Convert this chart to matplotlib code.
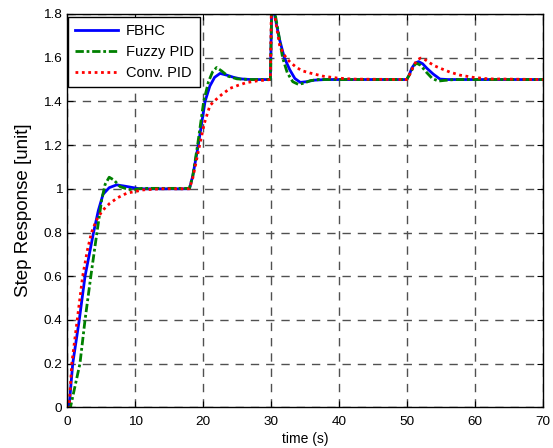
import matplotlib.pyplot as plt

fbhc_t = [0, 0.3, 0.84, 1.8, 2.65, 3.9, 4.6, 5.3, 6.2, 7.3, 8.5, 10.7, 18.0, 18.5, 19.3, 20.3,
          21.0, 21.7, 22.5, 23.5, 24.5, 25.5, 27.0, 29.9, 30.15, 30.5, 31.2, 31.95, 32.75, 33.5,
          34.3, 35.2, 36.3, 38.0, 49.95, 50.3, 50.7, 51.2, 51.7, 52.3, 52.9, 53.85, 54.85, 56.0, 70.0]
fbhc_y = [0, 0, 0.2, 0.4, 0.6, 0.8, 0.9, 0.975, 1.005, 1.018, 1.012, 1.0, 1.0, 1.06, 1.2, 1.4,
          1.47, 1.51, 1.528, 1.52, 1.51, 1.503, 1.5, 1.5, 1.9, 1.8, 1.69, 1.6, 1.545, 1.505,
          1.487, 1.49, 1.497, 1.5, 1.5, 1.52, 1.552, 1.575, 1.582, 1.572, 1.552, 1.525, 1.502, 1.5, 1.5]

fuzzy_t = [0, 0.5, 1.2, 1.9, 2.65, 3.5, 4.4, 5.1, 5.6, 6.2, 6.9, 7.8, 9.0, 10.0, 11.0, 18.0, 18.5,
           19.2, 20.1, 20.8, 21.4, 22.0, 22.7, 23.7, 25.0, 27.0, 29.9, 30.15, 30.6, 31.0, 31.7, 32.4,
           33.2, 34.0, 34.8, 35.8, 37.0, 49.95, 50.5, 51.0, 51.4, 52.0, 52.8, 53.7, 54.6, 55.5, 57.0, 70.0]
fuzzy_y = [0, 0, 0.1, 0.2, 0.4, 0.6, 0.8, 0.95, 1.02, 1.053, 1.04, 1.01, 0.997, 0.997, 1.002, 1.002, 1.06,
           1.2, 1.4, 1.49, 1.535, 1.555, 1.54, 1.515, 1.503, 1.5, 1.5, 1.9, 1.8, 1.73, 1.6, 1.53,
           1.49, 1.478, 1.483, 1.495, 1.5, 1.5, 1.53, 1.563, 1.575, 1.565, 1.535, 1.505, 1.493, 1.496, 1.5, 1.5]

conv_t = [0, 0.3, 0.7, 1.5, 2.3, 3.0, 3.6, 4.3, 5.2, 6.3, 7.5, 8.8, 11.2, 14.0, 18.0, 18.5, 19.5,
          20.2, 21.0, 21.6, 22.7, 24.0, 25.2, 26.4, 28.0, 29.9, 30.1, 30.5, 31.3, 32.2, 32.8, 33.75,
          34.6, 35.7, 37.7, 39.7, 42.0, 49.95, 50.5, 51.0, 51.5, 52.0, 52.7, 53.4, 54.1, 54.85, 56.3,
          57.8, 59.7, 62.0, 70.0]
conv_y = [0, 0, 0.2, 0.4, 0.6, 0.72, 0.8, 0.855, 0.9, 0.934, 0.96, 0.98, 0.995, 1.0, 1.0, 1.05, 1.2,
          1.3, 1.38, 1.4, 1.43, 1.46, 1.474, 1.486, 1.494, 1.5, 1.95, 1.8, 1.65, 1.6, 1.58, 1.555,
          1.54, 1.53, 1.515, 1.507, 1.502, 1.5, 1.53, 1.565, 1.59, 1.598, 1.59, 1.575, 1.562, 1.552, 1.534,
          1.52, 1.51, 1.503, 1.5]

x_ticks = [0, 10, 20, 30, 40, 50, 60, 70]
y_ticks = [0, 0.2, 0.4, 0.6, 0.8, 1.0, 1.2, 1.4, 1.6, 1.8]
y_labels = ['0', '0.2', '0.4', '0.6', '0.8', '1', '1.2', '1.4', '1.6', '1.8']

plt.rcParams['font.family'] = ['Liberation Sans', 'DejaVu Sans']

fig = plt.figure(figsize=(5.53, 4.48), dpi=100)
ax = fig.add_axes([0.1212, 0.0908, 0.8608, 0.878])

ax.plot(fbhc_t, fbhc_y, color='#0000ff', lw=2, ls='-', label='FBHC')
ax.plot(fuzzy_t, fuzzy_y, color='#008000', lw=2, ls=(0, (3, 1, 1, 1)), label='Fuzzy PID')
ax.plot(conv_t, conv_y, color='#ff0000', lw=2, ls=(0, (1, 1.3)), label='Conv. PID')

ax.set_xlim(0, 70)
ax.set_ylim(0, 1.8)
ax.set_xticks(x_ticks)
ax.set_yticks(y_ticks)
ax.set_yticklabels(y_labels)
ax.tick_params(direction='in', top=True, right=True, length=4, labelsize=9.7)
ax.tick_params(axis='x', pad=6)
ax.grid(True, color='#505050', ls=(0, (6, 5)), lw=1)
for s in ax.spines.values():
    s.set_linewidth(1)

ax.set_xlabel('time (s)', fontsize=10, labelpad=3)
ax.set_ylabel('Step Response [unit]', fontsize=13.5, labelpad=8)

leg = ax.legend(loc='upper left', bbox_to_anchor=(0.002, 0.992), borderaxespad=0,
                fontsize=10.5, handlelength=3, handletextpad=0.5, labelspacing=0.5,
                borderpad=0.45, fancybox=False, framealpha=1, edgecolor='black')
leg.get_frame().set_linewidth(1)

fig.savefig('out.png', dpi=100)
